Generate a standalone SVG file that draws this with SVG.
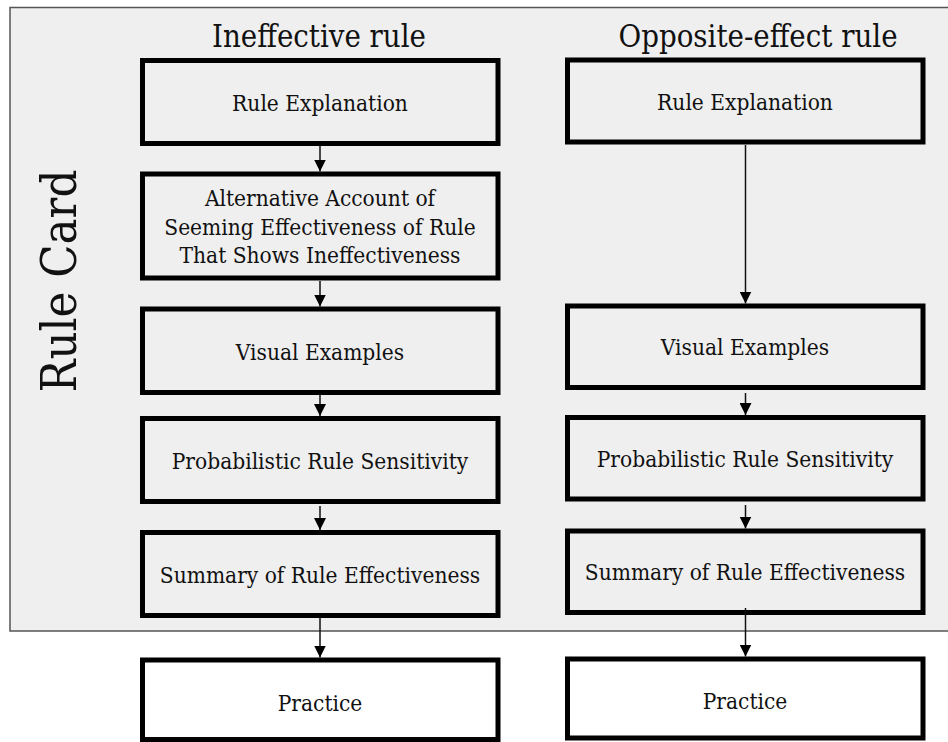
<svg xmlns="http://www.w3.org/2000/svg" width="948" height="742" viewBox="0 0 948 742">
  <defs>
    <marker id="arrow" viewBox="0 0 12 12" refX="12" refY="6" markerWidth="12" markerHeight="12" markerUnits="userSpaceOnUse" orient="auto">
      <path d="M0,0 L12,6 L0,12 Z" fill="#000"/>
    </marker>
    <style>
      .card { fill: #efefef; stroke: #555; stroke-width: 1.5; }
      .box { fill: #efefef; stroke: #000; stroke-width: 5; }
      .box.out { fill: #fff; }
      .label { font-family: "DejaVu Serif Condensed", "DejaVu Serif", serif; font-stretch: condensed; font-size: 22.5px; fill: #111; text-anchor: middle; }
      .title { font-family: "DejaVu Serif Condensed", "DejaVu Serif", serif; font-stretch: condensed; font-size: 30.8px; fill: #111; text-anchor: middle; }
      .side { font-family: "DejaVu Serif Condensed", "DejaVu Serif", serif; font-stretch: condensed; font-size: 48.5px; fill: #111; text-anchor: middle; }
      .edge { stroke: #111; stroke-width: 1.5; fill: none; marker-end: url(#arrow); }
    </style>
  </defs>

  <rect width="948" height="742" fill="#fff"/>

  <!-- rule card panel -->
  <g id="rule-card">
    <rect class="card" x="10" y="7.5" width="945" height="623.5"/>
    <text class="side" transform="translate(76,281) rotate(-90)">Rule Card</text>
  </g>

  <g id="title-ineffective"><text class="title" x="319" y="47">Ineffective rule</text></g>
  <g id="title-opposite"><text class="title" x="758" y="47">Opposite-effect rule</text></g>

  <!-- left column -->
  <g id="l-explanation">
    <rect class="box" x="142.5" y="60.5" width="355.5" height="83"/>
    <text class="label" x="320" y="111">Rule Explanation</text>
  </g>
  <g id="l-alternative">
    <rect class="box" x="142.5" y="174" width="355.5" height="104"/>
    <text class="label" x="320" y="206">Alternative Account of</text>
    <text class="label" x="320" y="234.5">Seeming Effectiveness of Rule</text>
    <text class="label" x="320" y="263">That Shows Ineffectiveness</text>
  </g>
  <g id="l-visual">
    <rect class="box" x="142.5" y="309" width="355.5" height="83.5"/>
    <text class="label" x="320" y="360">Visual Examples</text>
  </g>
  <g id="l-probabilistic">
    <rect class="box" x="142.5" y="418.5" width="355.5" height="83"/>
    <text class="label" x="320" y="469">Probabilistic Rule Sensitivity</text>
  </g>
  <g id="l-summary">
    <rect class="box" x="142.5" y="532.5" width="355.5" height="83"/>
    <text class="label" x="320" y="583">Summary of Rule Effectiveness</text>
  </g>
  <g id="l-practice">
    <rect class="box out" x="142.5" y="660" width="355.5" height="79.5"/>
    <text class="label" x="320" y="711">Practice</text>
  </g>

  <!-- right column -->
  <g id="r-explanation">
    <rect class="box" x="567.5" y="60" width="355.5" height="82"/>
    <text class="label" x="745" y="110">Rule Explanation</text>
  </g>
  <g id="r-visual">
    <rect class="box" x="567.5" y="306" width="355.5" height="81.5"/>
    <text class="label" x="745" y="355">Visual Examples</text>
  </g>
  <g id="r-probabilistic">
    <rect class="box" x="567.5" y="417.5" width="355.5" height="81.5"/>
    <text class="label" x="745" y="467">Probabilistic Rule Sensitivity</text>
  </g>
  <g id="r-summary">
    <rect class="box" x="567.5" y="531" width="355.5" height="81.5"/>
    <text class="label" x="745" y="580">Summary of Rule Effectiveness</text>
  </g>
  <g id="r-practice">
    <rect class="box out" x="567.5" y="659" width="355.5" height="79"/>
    <text class="label" x="745" y="709">Practice</text>
  </g>

  <!-- connectors -->
  <g id="connectors">
    <line class="edge" x1="320" y1="146" x2="320" y2="171.5"/>
    <line class="edge" x1="320" y1="281" x2="320" y2="306.5"/>
    <line class="edge" x1="320" y1="395" x2="320" y2="416"/>
    <line class="edge" x1="320" y1="506" x2="320" y2="530"/>
    <line class="edge" x1="320" y1="618" x2="320" y2="657.5"/>
    <line class="edge" x1="745.5" y1="145" x2="745.5" y2="303.5"/>
    <line class="edge" x1="745.5" y1="393" x2="745.5" y2="415"/>
    <line class="edge" x1="745.5" y1="505" x2="745.5" y2="528.5"/>
    <line class="edge" x1="745.5" y1="608" x2="745.5" y2="656.5"/>
  </g>
</svg>
